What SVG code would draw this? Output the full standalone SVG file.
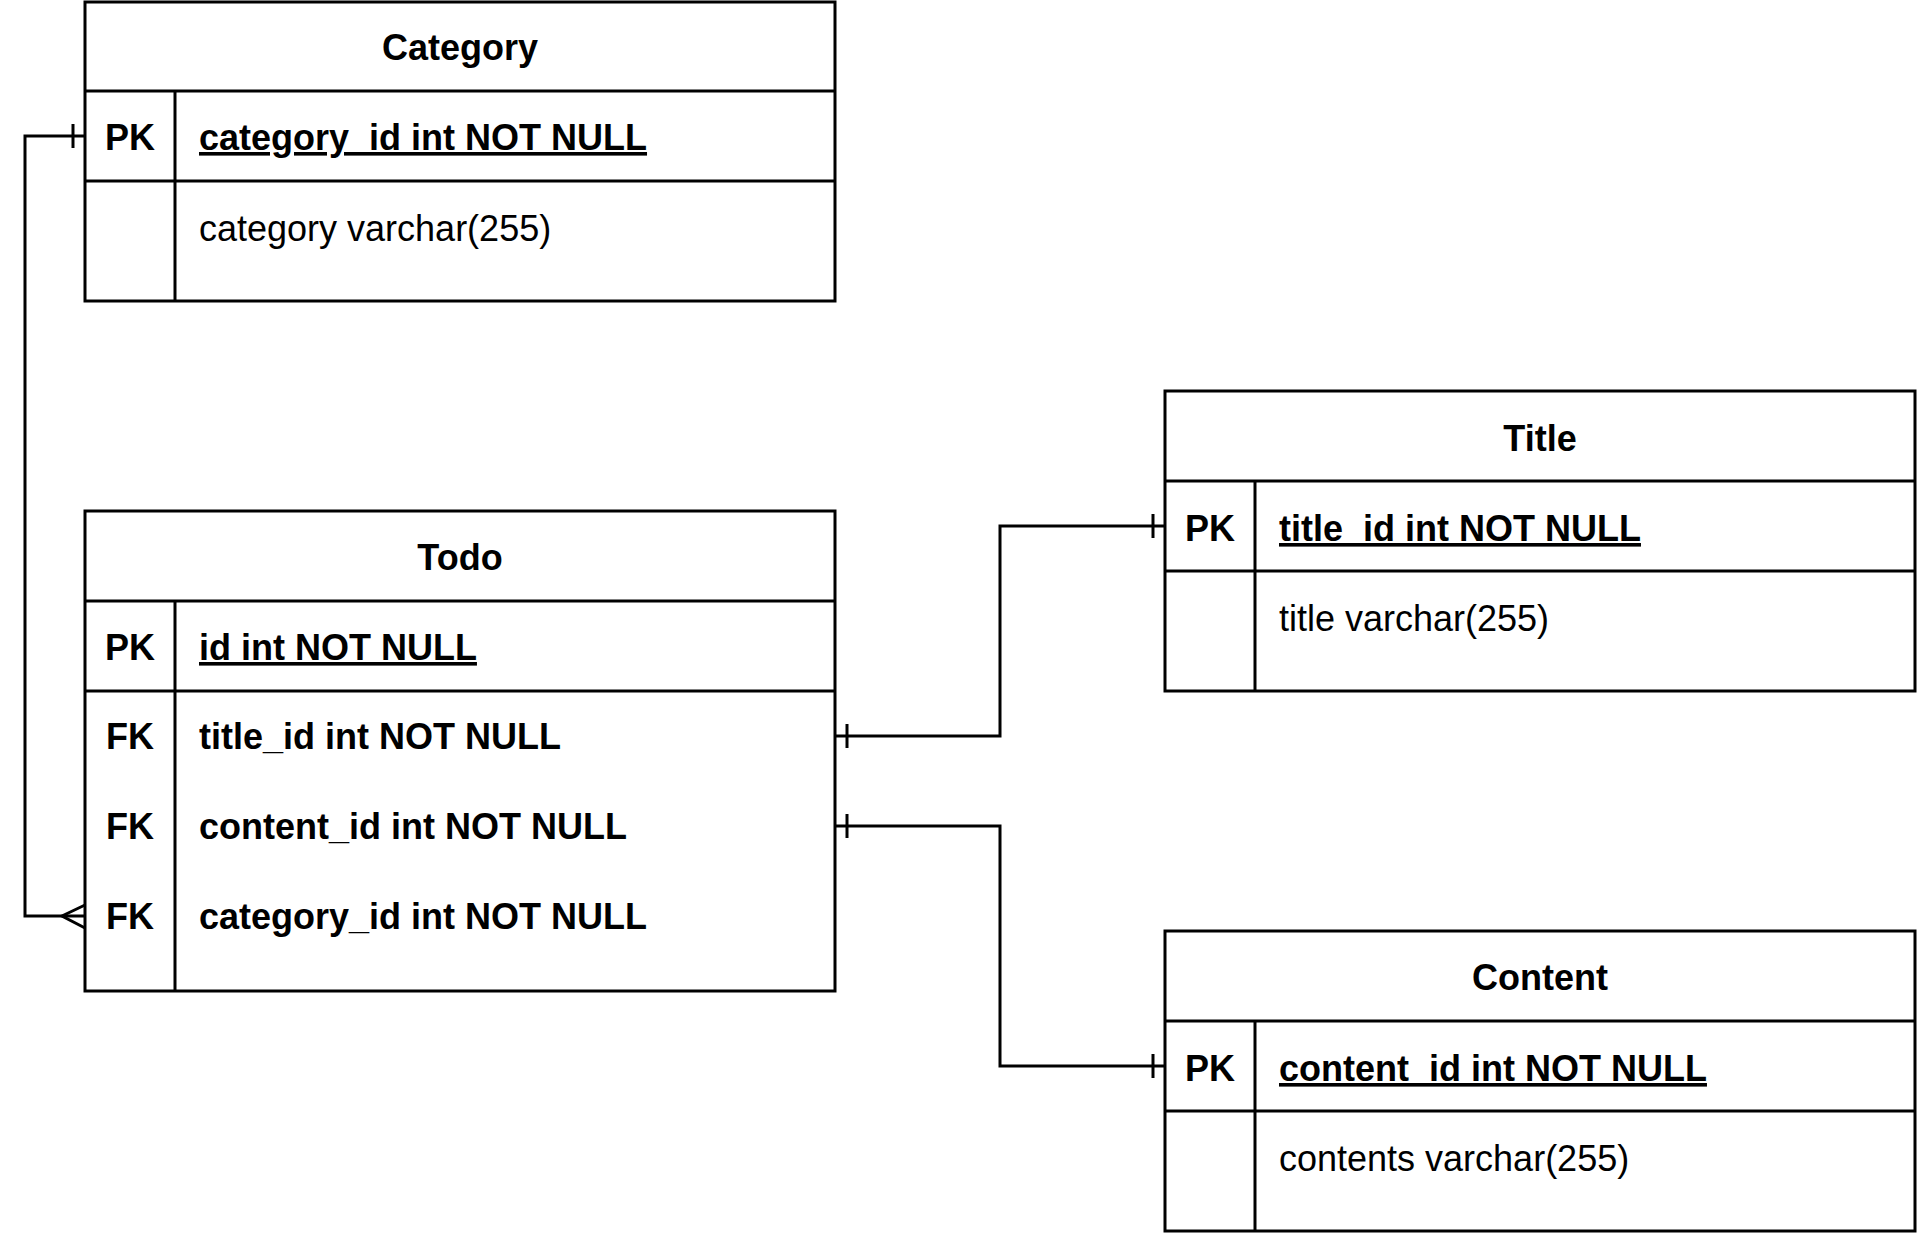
<svg xmlns="http://www.w3.org/2000/svg" width="1917" height="1233" viewBox="0 0 1917 1233">
<style>
.box{fill:#fff;stroke:#000;stroke-width:3}
.ln{stroke:#000;stroke-width:3;fill:none}
text{font-family:"Liberation Sans",Arial,sans-serif;font-size:36px;fill:#000}
.b{font-weight:bold}
.c{text-anchor:middle}
.u{text-decoration:underline}
</style>
<rect width="1917" height="1233" fill="#fff"/>
<g id="category">
<rect class="box" x="85" y="2" width="750" height="299"/>
<line class="ln" x1="85" y1="91" x2="835" y2="91"/>
<line class="ln" x1="85" y1="181" x2="835" y2="181"/>
<line class="ln" x1="175" y1="91" x2="175" y2="301"/>
<text class="b c" x="460" y="60">Category</text>
<text class="b c" x="130" y="150">PK</text>
<text class="b u" x="199" y="150">category_id int NOT NULL</text>
<text x="199" y="241">category varchar(255)</text>
</g>
<g id="todo">
<rect class="box" x="85" y="511" width="750" height="480"/>
<line class="ln" x1="85" y1="601" x2="835" y2="601"/>
<line class="ln" x1="85" y1="691" x2="835" y2="691"/>
<line class="ln" x1="175" y1="601" x2="175" y2="991"/>
<text class="b c" x="460" y="570">Todo</text>
<text class="b c" x="130" y="660">PK</text>
<text class="b u" x="199" y="660">id int NOT NULL</text>
<text class="b c" x="130" y="749">FK</text>
<text class="b" x="199" y="749">title_id int NOT NULL</text>
<text class="b c" x="130" y="839">FK</text>
<text class="b" x="199" y="839">content_id int NOT NULL</text>
<text class="b c" x="130" y="929">FK</text>
<text class="b" x="199" y="929">category_id int NOT NULL</text>
</g>
<g id="title">
<rect class="box" x="1165" y="391" width="750" height="300"/>
<line class="ln" x1="1165" y1="481" x2="1915" y2="481"/>
<line class="ln" x1="1165" y1="571" x2="1915" y2="571"/>
<line class="ln" x1="1255" y1="481" x2="1255" y2="691"/>
<text class="b c" x="1540" y="451">Title</text>
<text class="b c" x="1210" y="541">PK</text>
<text class="b u" x="1279" y="541">title_id int NOT NULL</text>
<text x="1279" y="631">title varchar(255)</text>
</g>
<g id="content">
<rect class="box" x="1165" y="931" width="750" height="300"/>
<line class="ln" x1="1165" y1="1021" x2="1915" y2="1021"/>
<line class="ln" x1="1165" y1="1111" x2="1915" y2="1111"/>
<line class="ln" x1="1255" y1="1021" x2="1255" y2="1231"/>
<text class="b c" x="1540" y="990">Content</text>
<text class="b c" x="1210" y="1081">PK</text>
<text class="b u" x="1279" y="1081">content_id int NOT NULL</text>
<text x="1279" y="1171">contents varchar(255)</text>
</g>
<g id="connectors">
<path class="ln" d="M85 136H25V916H85"/>
<line class="ln" x1="73" y1="124" x2="73" y2="148"/>
<path class="ln" d="M85 905L62 916L85 928"/>
<path class="ln" d="M835 736H1000V526H1165"/>
<line class="ln" x1="847" y1="724" x2="847" y2="748"/>
<line class="ln" x1="1153" y1="514" x2="1153" y2="538"/>
<path class="ln" d="M835 826H1000V1066H1165"/>
<line class="ln" x1="847" y1="814" x2="847" y2="838"/>
<line class="ln" x1="1153" y1="1054" x2="1153" y2="1078"/>
</g>
</svg>
